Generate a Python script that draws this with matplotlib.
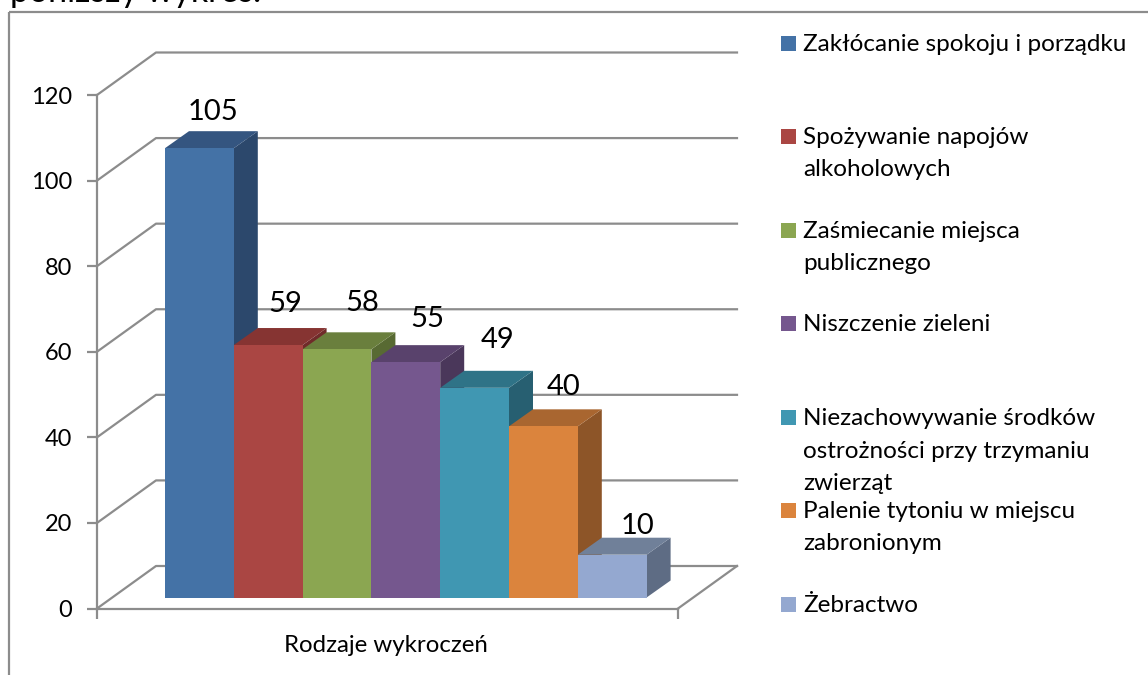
#! /usr/bin/env python
import matplotlib
matplotlib.use('Agg')
import matplotlib.pyplot as plt
from matplotlib.patches import Polygon, Rectangle

plt.rcParams['font.family'] = ['Lato', 'DejaVu Sans']

# Data
labels = ['Zakłócanie spokoju i porządku', 'Spożywanie napojów\nalkoholowych',
          'Zaśmiecanie miejsca\npublicznego', 'Niszczenie zieleni',
          'Niezachowywanie środków\nostrożności przy trzymaniu\nzwierząt',
          'Palenie tytoniu w miejscu\nzabronionym', 'Żebractwo']
values = [105, 59, 58, 55, 49, 40, 10]
yticks = [0, 20, 40, 60, 80, 100, 120]
front_cols = ['#4472A6', '#AA4643', '#8BA651', '#75578E', '#4097B2', '#DB843D', '#94A8D0']
top_cols = ['#345580', '#863432', '#6A7F3D', '#59426C', '#2F7387', '#A96630', '#708099']
side_cols = ['#2C486C', '#702B2A', '#586A33', '#4A375A', '#275F71', '#8D5528', '#5E6C84']

# hand placed things in the original, in pixels
legend_y = [43.5, 136, 230, 323.5, 417.5, 510.5, 604.5]
label_dx = [-8, -5, 4, 0, 1, -1, 4]
label_dy = [3, 8, 13, 10, 14, 6, -5]

W, H = 1148, 675
GRID = '#8c8c8c'

fig = plt.figure(figsize=(W/100, H/100), dpi=100)
# full page pixel layer for the frame and the clipped line above the chart
bg = fig.add_axes([0, 0, 1, 1])
bg.set_xlim(0, W)
bg.set_ylim(H, 0)
bg.axis('off')
bg.add_patch(Rectangle((9, 12), 1300, 800, fill=False, ec=GRID, lw=1.6))
bg.text(10, 2.5, 'poniższy wykres.', fontsize=24.4, va='baseline', ha='left')

# value axes: y is the real scale, x counts bars
x0, x1, y0, y1 = 97, 678, 608.5, 95
ax = fig.add_axes([x0/W, 1-y0/H, (x1-x0)/W, (y0-y1)/H])
bar_px = 68.8
ax.set_xlim(0, (x1-x0)/bar_px)
ax.set_ylim(0, 120)
ax.patch.set_alpha(0)
for s in ['top', 'right']:
    ax.spines[s].set_visible(False)
for s in ['left', 'bottom']:
    ax.spines[s].set_color(GRID)
    ax.spines[s].set_linewidth(1.6)
ax.set_yticks(yticks)
ax.set_xticks([0, (x1-x0)/bar_px])
ax.set_xticklabels([])
ax.tick_params(axis='y', labelsize=17, length=7, width=1.6, color=GRID, pad=11)
ax.tick_params(axis='x', length=7, width=1.6, color=GRID)
plt.setp(ax.get_yticklabels(), va='center_baseline')

ux = bar_px
uy = (y0-y1)/120.0
wall_dx, wall_dy = 59/ux, 42.5/uy
xmax = (x1-x0)/bar_px

# wall grid lines and floor
for t in yticks:
    ax.plot([0, wall_dx, xmax+wall_dx], [t, t+wall_dy, t+wall_dy], color=GRID, lw=1.6, clip_on=False, zorder=1)
ax.plot([xmax, xmax+wall_dx], [0, wall_dy], color=GRID, lw=1.6, clip_on=False, zorder=1)

# bars, front plane sits a bit inside the floor
bx0 = (165-x0)/ux
by0 = 11/uy
ddx, ddy = 24/ux, 17/uy
for i in range(len(values)):
    v = values[i]
    l, r = bx0+i, bx0+i+1
    b, t = by0, by0+v
    z = 3+i
    ax.add_patch(Polygon([(r, b), (r+ddx, b+ddy), (r+ddx, t+ddy), (r, t)], fc=side_cols[i], ec='none', clip_on=False, zorder=z))
    ax.add_patch(Polygon([(l, t), (l+ddx, t+ddy), (r+ddx, t+ddy), (r, t)], fc=top_cols[i], ec='none', clip_on=False, zorder=z))
    ax.add_patch(Rectangle((l, b), 1, v, fc=front_cols[i], ec='none', clip_on=False, zorder=z+0.5))
    ax.text(l+0.5+ddx*0.9+label_dx[i]/ux, t+ddy+(3.5+label_dy[i])/uy, str(v), fontsize=21,
            ha='center', va='bottom', zorder=20, clip_on=False)

bg.text(386, 645, 'Rodzaje wykroczeń', fontsize=17.3, ha='center', va='center')

# legend
for i in range(len(labels)):
    bg.add_patch(Rectangle((781, legend_y[i]-7.5), 15, 15, fc=front_cols[i], ec='none'))
    lines = labels[i].split('\n')
    for k in range(len(lines)):
        bg.text(803, legend_y[i]+7.5+k*32.5, lines[k], fontsize=17.5, ha='left', va='baseline')

fig.savefig('out.png', dpi=100, facecolor='white')
